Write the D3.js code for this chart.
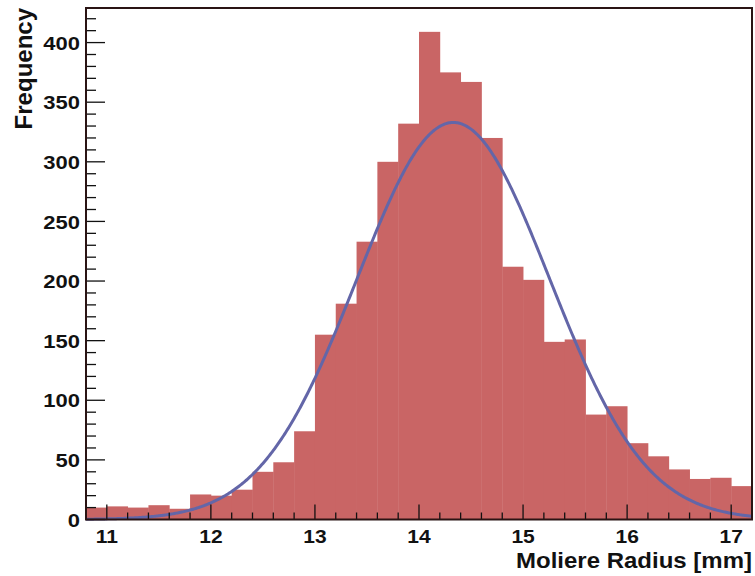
<!DOCTYPE html>
<html>
<head>
<meta charset="utf-8">
<script src="https://cdn.jsdelivr.net/npm/d3@7"></script>
<style>
  html, body { margin: 0; padding: 0; background: #fff; }
  svg { display: block; }
  text { font-family: "Liberation Sans", Arial, Helvetica, sans-serif; font-weight: bold; fill: #111; }
</style>
</head>
<body>
<svg id="chart" width="755" height="576"></svg>
<script>
// Histogram of Moliere radius, bins of 0.2 mm from 10.8 to 17.2 mm
const binStart = 10.8;
const binWidth = 0.2;
const counts = [
  10, 11, 10, 12, 9, 21, 20, 25, 40, 48,
  74, 155, 181, 233, 300, 332, 409, 375, 367, 320,
  212, 201, 149, 151, 88, 95, 64, 53, 42, 34,
  35, 28
];

// Gaussian fit parameters
const fitAmplitude = 333;
const fitMean = 14.33;
const fitSigma = 0.925;

const xTicks = [11, 12, 13, 14, 15, 16, 17];
const yTicks = [0, 50, 100, 150, 200, 250, 300, 350, 400];

const svg = d3.select("#chart");
const frame = { left: 86, right: 752, top: 8, bottom: 519.5 };

const x = d3.scaleLinear().domain([10.8, 17.2]).range([frame.left, frame.right]);
const y = d3.scaleLinear().domain([0, 429]).range([frame.bottom, frame.top]);

const bins = counts.map((c, i) => ({ x0: binStart + i * binWidth, x1: binStart + (i + 1) * binWidth, v: c }));

// Bars
svg.append("g").selectAll("rect").data(bins).join("rect")
  .attr("x", d => x(d.x0))
  .attr("width", d => x(d.x1) - x(d.x0) + 0.4)
  .attr("y", d => y(d.v))
  .attr("height", d => y(0) - y(d.v))
  .attr("fill", "#c96565");

// Fit curve
const fitPts = d3.range(0, 641).map(i => {
  const xv = 10.8 + i * 0.01;
  return [xv, fitAmplitude * Math.exp(-0.5 * Math.pow((xv - fitMean) / fitSigma, 2))];
});
svg.append("path")
  .datum(fitPts)
  .attr("fill", "none")
  .attr("stroke", "#6366a8")
  .attr("stroke-width", 3)
  .attr("d", d3.line().x(d => x(d[0])).y(d => y(d[1])));

// Ticks drawn inside the frame
const tickG = svg.append("g").attr("stroke", "#111").attr("stroke-width", 1.3);
d3.range(0, 33).forEach(i => {
  const v = 10.8 + i * 0.2;
  const major = Math.abs(v - Math.round(v)) < 1e-6;
  tickG.append("line")
    .attr("x1", x(v)).attr("x2", x(v))
    .attr("y1", frame.bottom).attr("y2", frame.bottom - (major ? 15 : 7));
});
d3.range(0, 43).forEach(i => {
  const v = i * 10;
  const major = v % 50 === 0;
  tickG.append("line")
    .attr("x1", frame.left).attr("x2", frame.left + (major ? 19 : 10))
    .attr("y1", y(v)).attr("y2", y(v));
});

// Frame
svg.append("rect")
  .attr("x", frame.left).attr("y", frame.top)
  .attr("width", frame.right - frame.left).attr("height", frame.bottom - frame.top)
  .attr("fill", "none").attr("stroke", "#2a1414").attr("stroke-width", 2);

// Tick labels (wide, slightly flattened lettering)
svg.append("g").selectAll("text").data(xTicks).join("text")
  .attr("transform", d => `translate(${x(d)},542.5) scale(1,0.87)`)
  .attr("text-anchor", "middle")
  .attr("font-size", 21)
  .text(d => d);

svg.append("g").selectAll("text").data(yTicks).join("text")
  .attr("transform", d => `translate(80,${y(d) + 7.2}) scale(1,0.84)`)
  .attr("text-anchor", "end")
  .attr("font-size", 22)
  .text(d => d);

// Axis titles
svg.append("text")
  .attr("transform", "translate(752,567.5) scale(1,0.9)")
  .attr("text-anchor", "end")
  .attr("font-size", 24)
  .text("Moliere Radius [mm]");

svg.append("text")
  .attr("transform", "translate(32,8) rotate(-90)")
  .attr("text-anchor", "end")
  .attr("font-size", 24)
  .text("Frequency");
</script>
</body>
</html>
